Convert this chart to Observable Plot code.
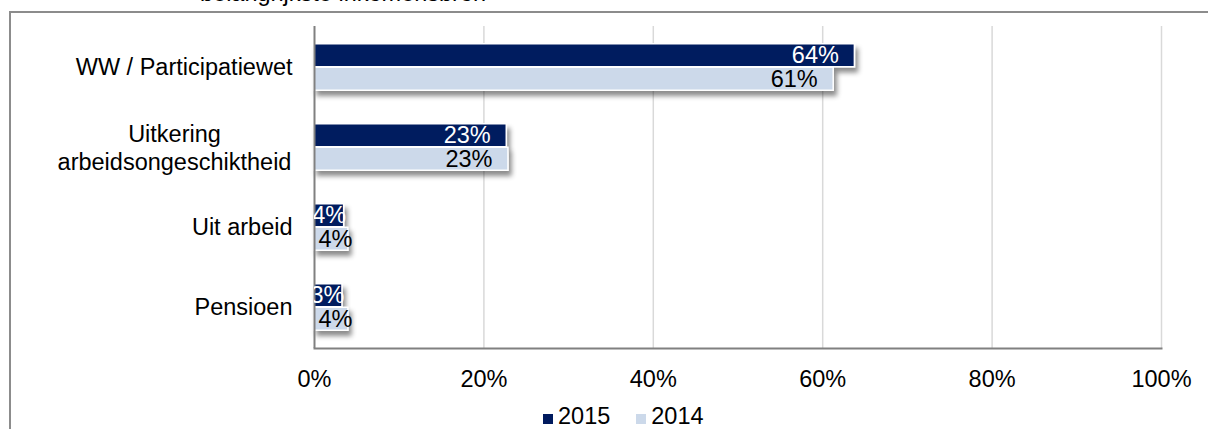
<!DOCTYPE html>
<html><head><meta charset="utf-8">
<script src="https://cdn.jsdelivr.net/npm/d3@7"></script>
<script src="https://cdn.jsdelivr.net/npm/@observablehq/plot@0.6"></script>
<style>
html,body{margin:0;padding:0;background:#fff;overflow:hidden}
#wrap{position:relative;width:1208px;height:429px;overflow:hidden;font-family:"Liberation Sans",Arial,sans-serif;color:#000}
#border{position:absolute;left:9px;top:11px;width:1300px;height:500px;border:2px solid #8c8c8c;box-sizing:border-box}
#title{position:absolute;left:200px;top:-19px;font-size:23.5px;line-height:24px;white-space:nowrap}
#chart{position:absolute;left:0;top:0}
#legend{position:absolute;left:543px;top:404px;display:flex;align-items:center;font-size:23.5px;line-height:24px}
.item{display:flex;align-items:center;margin-right:26px}
.sw{width:10px;height:10px;margin-right:5px;margin-top:5px}
</style></head><body>
<div id="wrap"><div id="border"></div><div id="title"></div><div id="chart"></div><div id="legend"></div></div>
<script>
const title = "belangrijkste inkomensbron";
const categories = ["WW / Participatiewet", "Uitkering\narbeidsongeschiktheid", "Uit arbeid", "Pensioen"];
const years = ["2015", "2014"];
const values2015 = [63.8, 22.7, 3.5, 3.3];
const values2014 = [61.3, 22.9, 4.0, 4.0];
const xTicks = [0, 20, 40, 60, 80, 100];
const colors = ["#001a5e", "#ccd9ea"];

const d15 = categories.map((c, i) => ({cat: c, year: years[0], value: values2015[i]}));
const d14 = categories.map((c, i) => ({cat: c, year: years[1], value: values2014[i]}));

const band = 80.5, barH = 23.5, outer = (band - 2 * barH) / 2;
const lbl = d => Math.round(d.value) + "%";

document.getElementById("title").textContent = title;

const plot = Plot.plot({
  width: 1208, height: 395,
  marginLeft: 314, marginRight: 47, marginTop: 26, marginBottom: 47,
  style: {fontFamily: "'Liberation Sans', Arial, sans-serif", fontSize: "23.5px", color: "#000", background: "transparent", overflow: "visible"},
  x: {domain: [0, 100]},
  y: {domain: categories, padding: 0},
  marks: [
    Plot.ruleX(xTicks.slice(1), {stroke: "#d9d9d9", strokeWidth: 1.5}),
    Plot.barX(d15, {x: "value", y: "cat", fill: colors[0], stroke: "#fff", strokeWidth: 1.5, insetTop: outer, insetBottom: outer + barH}),
    Plot.barX(d14, {x: "value", y: "cat", fill: colors[1], stroke: "#fff", strokeWidth: 1.5, insetTop: outer + barH, insetBottom: outer}),
    Plot.ruleX([0], {stroke: "#808080", strokeWidth: 2}),
    Plot.frame({anchor: "bottom", stroke: "#808080", strokeWidth: 2}),
    Plot.axisX(xTicks, {tickSize: 0, tickPadding: 22, tickFormat: d => d + "%", fill: "#000", label: null}),
    Plot.axisY({tickSize: 0, tickPadding: 22, tickFormat: d => d.includes("\n") ? "" : d, fill: "#000", label: null}),
    Plot.text(categories.filter(c => c.includes("\n")), {y: d => d, frameAnchor: "left", dx: -140, textAnchor: "middle", lineHeight: 1.19, fill: "#000"}),
    Plot.text(d15.filter(d => d.value >= 10), {x: "value", y: "cat", text: lbl, textAnchor: "end", dx: -16, dy: -barH / 2, fill: "#fff"}),
    Plot.text(d15.filter(d => d.value < 10), {x: "value", y: "cat", text: lbl, textAnchor: "end", dx: 2, dy: -barH / 2, fill: "#fff", clip: true}),
    Plot.text(d14.filter(d => d.value >= 10), {x: "value", y: "cat", text: lbl, textAnchor: "end", dx: -16, dy: barH / 2, fill: "#000"}),
    Plot.text(d14.filter(d => d.value < 10), {x: "value", y: "cat", text: lbl, textAnchor: "end", dx: 4, dy: barH / 2, fill: "#000"})
  ]
});

const svg = d3.select(plot);
const defs = svg.insert("defs", ":first-child");
defs.append("filter").attr("id", "shadow").attr("filterUnits", "userSpaceOnUse")
  .attr("x", 0).attr("y", 0).attr("width", 1208).attr("height", 400)
  .append("feDropShadow").attr("dx", 3).attr("dy", 5).attr("stdDeviation", 2.5)
  .attr("flood-color", "#000").attr("flood-opacity", 0.45);
svg.selectAll('g[aria-label="bar"]').attr("filter", "url(#shadow)");

document.getElementById("chart").appendChild(plot);

const legend = document.getElementById("legend");
years.forEach((y, i) => {
  const item = document.createElement("div");
  item.className = "item";
  const sw = document.createElement("span");
  sw.className = "sw";
  sw.style.background = colors[i];
  const t = document.createElement("span");
  t.textContent = y;
  item.appendChild(sw); item.appendChild(t);
  legend.appendChild(item);
});
</script>
</body></html>
